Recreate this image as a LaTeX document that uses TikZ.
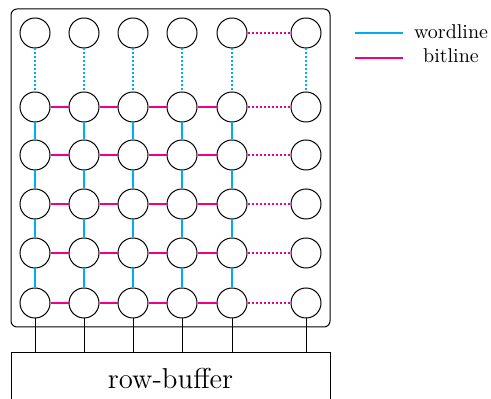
\documentclass[tikz,border=0pt]{standalone}
\definecolor{wlc}{RGB}{0,174,239}
\definecolor{blc}{RGB}{236,0,140}
\begin{document}
\begin{tikzpicture}[x=0.5pt,y=-0.5pt,
  cell/.style={circle,draw,minimum size=15pt,inner sep=0pt,line width=0.5pt},
  wl/.style={draw=wlc,line width=0.9pt},
  bl/.style={draw=blc,line width=0.9pt},
  dotty/.style={dash pattern=on 1pt off 1pt},
  conn/.style={draw,line width=0.5pt}]
\useasboundingbox (0,0) rectangle (491,399);
% frame
\node[draw,rounded corners=3pt,line width=0.5pt,minimum width=159.5pt,minimum height=159pt,inner sep=0pt] (frame) at (170.5,168) {};
% row buffer
\node[draw,line width=0.5pt,minimum width=159.5pt,minimum height=26pt,inner sep=0pt,font=\Large] (rb) at (170.5,379) {row-buffer};
% cells
\foreach \c/\x in {1/35,2/84,3/133,4/182,5/232,6/306}{
  \foreach \r/\y in {1/33,2/107,3/155,4/204,5/253,6/303}{
    \node[cell] (c-\r-\c) at (\x,\y) {};
  }
}
% wordlines (vertical, cyan)
\foreach \c in {1,...,6}{
  \draw[wl,dotty] (c-1-\c) -- (c-2-\c);
}
\foreach \c in {1,...,5}{
  \foreach \r/\s in {2/3,3/4,4/5,5/6}{
    \draw[wl] (c-\r-\c) -- (c-\s-\c);
  }
}
% bitlines (horizontal, magenta)
\foreach \r in {2,...,6}{
  \foreach \c/\d in {1/2,2/3,3/4,4/5}{
    \draw[bl] (c-\r-\c) -- (c-\r-\d);
  }
}
\foreach \r in {1,...,6}{
  \draw[bl,dotty] (c-\r-5) -- (c-\r-6);
}
% connections to row buffer
\foreach \c in {1,...,6}{
  \draw[conn] (c-6-\c.south) -- (c-6-\c.south |- rb.north);
}
% legend
\coordinate (w1) at (355,33.3);
\coordinate (w2) at (403,33.3);
\coordinate (b1) at (355,57.7);
\coordinate (b2) at (403,57.7);
\draw[wl] (w1) -- (w2);
\draw[bl] (b1) -- (b2);
\node[inner sep=0pt] (lw) at (451,31.5) {wordline};
\node[inner sep=0pt] (lb) at (451,55.5) {bitline};
\end{tikzpicture}
\end{document}
